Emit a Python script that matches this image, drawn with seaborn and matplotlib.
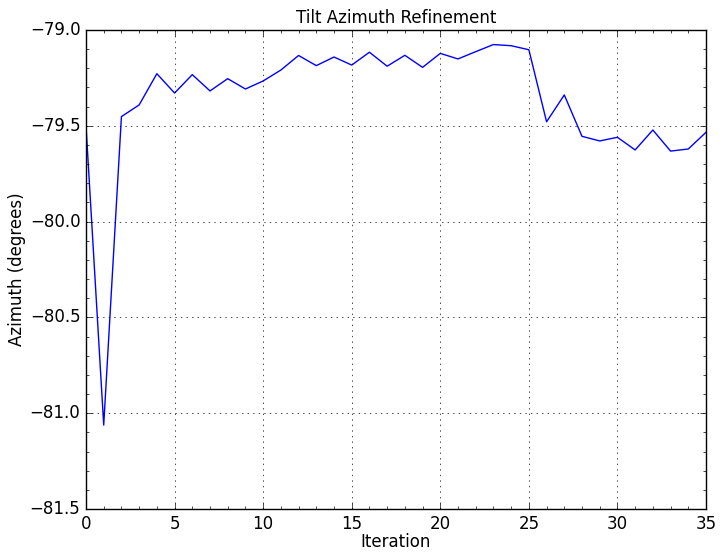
import matplotlib
matplotlib.use("Agg")
import matplotlib.pyplot as plt
from matplotlib.ticker import AutoMinorLocator
import seaborn as sns
import pandas as pd

iteration = list(range(36))
azimuth = [-79.50, -81.062, -79.452, -79.391, -79.228, -79.329, -79.233, -79.318,
           -79.254, -79.308, -79.266, -79.209, -79.133, -79.186, -79.141, -79.183,
           -79.116, -79.189, -79.132, -79.195, -79.122, -79.151, -79.113, -79.076,
           -79.082, -79.103, -79.479, -79.339, -79.555, -79.579, -79.560, -79.626,
           -79.522, -79.632, -79.621, -79.534]

plt.style.use("classic")
df = pd.DataFrame({"Iteration": iteration, "Azimuth": azimuth})

fig = plt.figure(figsize=(7.24, 5.55), dpi=100, facecolor="white")
ax = fig.add_axes([86/724, 1-509/555, (706-86)/724, (509-30)/555])
sns.lineplot(data=df, x="Iteration", y="Azimuth", ax=ax, color="b", linewidth=1)
ax.set_xlim(0, 35)
ax.set_ylim(-81.5, -79.0)
ax.set_xticks([0, 5, 10, 15, 20, 25, 30, 35])
ax.set_yticks([-81.5, -81.0, -80.5, -80.0, -79.5, -79.0])
ax.xaxis.set_minor_locator(AutoMinorLocator(5))
ax.yaxis.set_minor_locator(AutoMinorLocator(5))
ax.grid(True, which="major", color="k", linestyle=":", linewidth=0.5)
ax.set_xlabel("Iteration", fontsize=12, labelpad=0)
ax.set_ylabel("Azimuth (degrees)", fontsize=12, labelpad=3)
ax.set_title("Tilt Azimuth Refinement", fontsize=12)
fig.savefig("out.png", dpi=100, facecolor="white")
